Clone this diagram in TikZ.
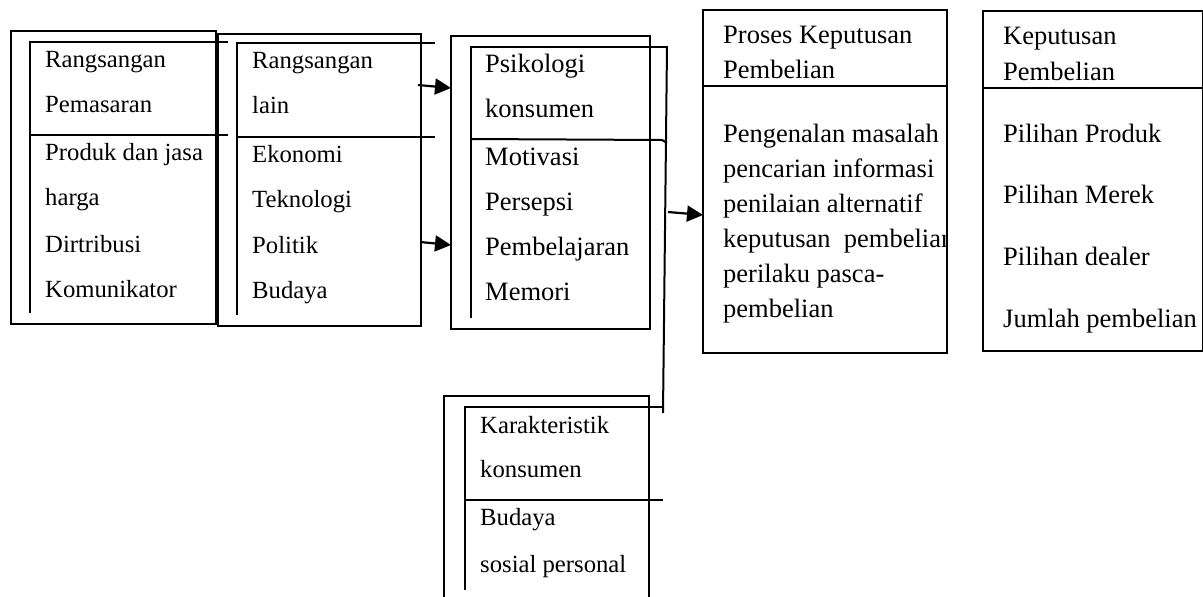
\documentclass[tikz,border=0pt]{standalone}
\usepackage{fontspec}
\setmainfont{Liberation Serif}
\usetikzlibrary{arrows.meta}
\tikzset{
  outerbox/.style={draw, line width=1.6pt, inner sep=0pt, anchor=north west},
  innerline/.style={line width=2pt},
  arr/.style={line width=2.2pt, -{Triangle[length=16pt,width=16pt]}},
  tA/.style={anchor=base west, inner sep=0pt, font=\fontsize{24.7}{26}\selectfont},
  tB/.style={anchor=base west, inner sep=0pt, font=\fontsize{26.5}{28}\selectfont},
}
\begin{document}
\begin{tikzpicture}[x=1pt,y=-1pt]
\useasboundingbox (0,0) rectangle (1203,597);
% outer boxes
\node[outerbox, minimum width=205pt, minimum height=293pt] (b1) at (10,30) {};
\node[outerbox, minimum width=203pt, minimum height=292pt] (b2) at (217,33) {};
\node[outerbox, minimum width=199pt, minimum height=293pt] (b3) at (450,35) {};
\node[outerbox, minimum width=244pt, minimum height=343pt] (b4) at (702,9) {};
\node[outerbox, minimum width=220pt, minimum height=340pt] (b5) at (982,10) {};
\draw[line width=1.6pt] (444,598) -- (444,396) -- (649,396) -- (649,598);
% dividers of right boxes
\draw[line width=1.6pt] (702,86) -- (946,86);
\draw[line width=1.6pt] (982,88) -- (1202,88);
% inner lines
\draw[innerline] (30,313) -- (30,42) -- (228,42);
\draw[innerline] (30,135) -- (228,135);
\draw[innerline] (237,315) -- (237,43) -- (435,43);
\draw[innerline] (237,137) -- (435,137);
\draw[innerline] (471,318) -- (471,47) -- (668,47);
\draw[innerline] (471,139) -- (662,140) -- (667,143);
\draw[innerline] (667,47) -- (663,413);
\draw[innerline] (465,590) -- (465,407) -- (663,407);
\draw[innerline] (465,500) -- (663,500);
% arrows
\coordinate (a1s) at (418,85); \coordinate (a1e) at (451,88);
\coordinate (a2s) at (420,242); \coordinate (a2e) at (451,245);
\coordinate (a3s) at (668,212); \coordinate (a3e) at (703,215);
\draw[arr] (a1s) -- (a1e);
\draw[arr] (a2s) -- (a2e);
\draw[arr] (a3s) -- (a3e);
% box 1 text
\node[tA] (t11) at (45,67) {Rangsangan};
\node[tA] (t12) at (45,112) {Pemasaran};
\node[tA] (t13) at (45,160) {Produk dan jasa};
\node[tA] (t14) at (45,205) {harga};
\node[tA] (t15) at (45,252) {Dirtribusi};
\node[tA] (t16) at (45,297) {Komunikator};
% box 2 text
\node[tA] (t21) at (252,68) {Rangsangan};
\node[tA] (t22) at (252,113) {lain};
\node[tA] (t23) at (252,162) {Ekonomi};
\node[tA] (t24) at (252,207) {Teknologi};
\node[tA] (t25) at (252,253) {Politik};
\node[tA] (t26) at (252,298) {Budaya};
% box 3 text
\node[tB] (t31) at (485,72) {Psikologi};
\node[tB] (t32) at (485,117) {konsumen};
\node[tB] (t33) at (485,165) {Motivasi};
\node[tB] (t34) at (485,210) {Persepsi};
\node[tB] (t35) at (485,255) {Pembelajaran};
\node[tB] (t36) at (485,300) {Memori};
% box 4 text
\node[tB] (t41) at (723,43) {Proses Keputusan};
\node[tB] (t42) at (723,78) {Pembelian};
\node[tB] (t43) at (723,142) {Pengenalan masalah};
\node[tB] (t44) at (723,177) {pencarian informasi};
\node[tB] (t45) at (723,212) {penilaian alternatif};
\begin{scope}
\clip (702,86) rectangle (945,352);
\node[tB] (t46) at (723,247) {keputusan\ \ pembelian};
\end{scope}
\node[tB] (t47) at (723,282) {perilaku pasca-};
\node[tB] (t48) at (723,317) {pembelian};
% box 5 text
\node[tB] (t51) at (1003,45) {Keputusan};
\node[tB] (t52) at (1003,80) {Pembelian};
\node[tB] (t53) at (1003,142) {Pilihan Produk};
\node[tB] (t54) at (1003,203) {Pilihan Merek};
\node[tB] (t55) at (1003,265) {Pilihan dealer};
\node[tB] (t56) at (1003,327) {Jumlah pembelian};
% box 6 text
\node[tA] (t61) at (480,433) {Karakteristik};
\node[tA] (t62) at (480,477) {konsumen};
\node[tA] (t63) at (480,525) {Budaya};
\node[tA] (t64) at (480,572) {sosial personal};
\end{tikzpicture}
\end{document}
